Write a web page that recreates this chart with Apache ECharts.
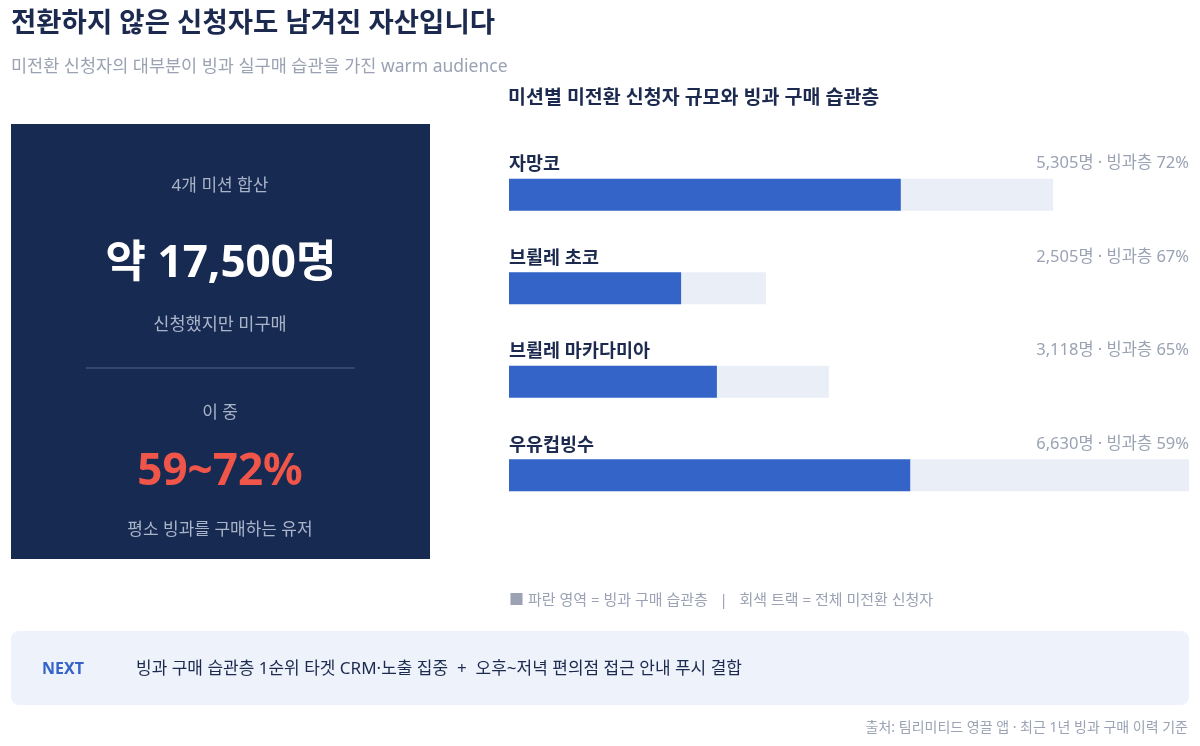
<!DOCTYPE html>
<html>
<head>
<meta charset="utf-8">
<title>미션별 미전환 신청자</title>
<script src="https://cdn.jsdelivr.net/npm/echarts@6/dist/echarts.min.js"></script>
<style>
  html, body { margin: 0; padding: 0; background: #ffffff; }
  #main { width: 1200px; height: 746px; }
</style>
</head>
<body>
<div id="main"></div>
<script type="text/javascript">
// 데이터
var missions = ['자망코', '브륄레 초코', '브륄레 마카다미아', '우유컵빙수'];
var totals = [5305, 2505, 3118, 6630];      // 전체 미전환 신청자
var habitPct = [72, 67, 65, 59];            // 빙과 구매 습관층 비율(%)

var FONT = '"Noto Sans", "Noto Sans CJK KR", sans-serif';
var NAVY = '#1b2a4e';
var GRAY = '#9aa2b3';
var BLUE = '#3464c8';
var TRACK = '#eaeef6';
var PANEL_TXT = '#a9b4c9';

var maxTotal = Math.max.apply(null, totals);
var habitVals = totals.map(function (t, i) { return Math.round(t * habitPct[i] / 100); });
var fullVals = totals.map(function () { return maxTotal; });

function fmt(n) { return n.toString().replace(/\B(?=(\d{3})+(?!\d))/g, ','); }

var myChart = echarts.init(document.getElementById('main'), null, { renderer: 'canvas' });

var option = {
    animation: false,
    backgroundColor: '#ffffff',
    textStyle: { fontFamily: FONT },
    title: [
        {
            text: '전환하지 않은 신청자도 남겨진 자산입니다',
            left: 6, top: 5,
            textStyle: { fontFamily: FONT, fontSize: 27.5, fontWeight: 'bold', color: NAVY }
        },
        {
            text: '미전환 신청자의 대부분이 빙과 실구매 습관을 가진 warm audience',
            left: 6, top: 53,
            textStyle: { fontFamily: FONT, fontSize: 17.5, fontWeight: 'normal', color: GRAY }
        },
        {
            text: '미션별 미전환 신청자 규모와 빙과 구매 습관층',
            left: 503, top: 84,
            textStyle: { fontFamily: FONT, fontSize: 19.5, fontWeight: 'bold', color: NAVY }
        }
    ],
    grid: { left: 509, right: 11, top: 148, height: 374, containLabel: false },
    xAxis: {
        type: 'value', min: 0, max: maxTotal,
        show: false
    },
    yAxis: {
        type: 'category', data: missions, inverse: true,
        show: false
    },
    series: [
        {
            // 오른쪽 수치 라벨용 투명 막대
            type: 'bar', data: fullVals, barWidth: 32, barGap: '-100%',
            itemStyle: { color: 'rgba(0,0,0,0)' },
            silent: true,
            label: {
                show: true,
                position: ['100%', -15],
                align: 'right', verticalAlign: 'middle',
                fontFamily: FONT, fontSize: 16.5, color: GRAY,
                formatter: function (p) {
                    return fmt(totals[p.dataIndex]) + '명 · 빙과층 ' + habitPct[p.dataIndex] + '%';
                }
            },
            z: 1
        },
        {
            // 회색 트랙 = 전체 미전환 신청자
            type: 'bar', data: totals, barWidth: 32, barGap: '-100%',
            itemStyle: { color: TRACK },
            label: {
                show: true,
                position: [0, -14],
                align: 'left', verticalAlign: 'middle',
                fontFamily: FONT, fontSize: 18.5, fontWeight: 'bold', color: NAVY,
                formatter: function (p) { return missions[p.dataIndex]; }
            },
            z: 2
        },
        {
            // 파란 영역 = 빙과 구매 습관층
            type: 'bar', data: habitVals, barWidth: 32, barGap: '-100%',
            itemStyle: { color: BLUE },
            z: 3
        }
    ],
    graphic: [
        // 왼쪽 요약 패널
        { type: 'rect', left: 11, top: 124, shape: { width: 419, height: 435 }, style: { fill: '#172a52' }, z: 0 },
        { type: 'text', x: 220, y: 186, style: { text: '4개 미션 합산', font: '17px ' + FONT, fill: PANEL_TXT, align: 'center', verticalAlign: 'middle' } },
        { type: 'text', x: 221, y: 264, style: { text: '약 17,500명', font: 'bold 44px ' + FONT, fill: '#ffffff', align: 'center', verticalAlign: 'middle' } },
        { type: 'text', x: 220, y: 325, style: { text: '신청했지만 미구매', font: '17.5px ' + FONT, fill: PANEL_TXT, align: 'center', verticalAlign: 'middle' } },
        { type: 'line', shape: { x1: 86, y1: 368, x2: 355, y2: 368 }, style: { stroke: '#3e5179', lineWidth: 1.5 } },
        { type: 'text', x: 220, y: 413, style: { text: '이 중', font: '17px ' + FONT, fill: PANEL_TXT, align: 'center', verticalAlign: 'middle' } },
        { type: 'text', x: 220, y: 472, style: { text: '59~72%', font: 'bold 44px ' + FONT, fill: '#f0554a', align: 'center', verticalAlign: 'middle' } },
        { type: 'text', x: 220, y: 530, style: { text: '평소 빙과를 구매하는 유저', font: '17px ' + FONT, fill: PANEL_TXT, align: 'center', verticalAlign: 'middle' } },
        // 범례 설명
        { type: 'text', x: 509, y: 601, style: { text: '■ 파란 영역 = 빙과 구매 습관층   |   회색 트랙 = 전체 미전환 신청자', font: '15px ' + FONT, fill: GRAY, verticalAlign: 'middle' } },
        // NEXT 박스
        { type: 'rect', left: 11, top: 631, shape: { width: 1178, height: 74, r: 8 }, style: { fill: '#eef2fb' }, z: 0 },
        { type: 'text', x: 42, y: 669, style: { text: 'NEXT', font: 'bold 16px ' + FONT, fill: BLUE, verticalAlign: 'middle' } },
        { type: 'text', x: 136, y: 669, style: { text: '빙과 구매 습관층 1순위 타겟 CRM·노출 집중  +  오후~저녁 편의점 접근 안내 푸시 결합', font: '17px ' + FONT, fill: NAVY, verticalAlign: 'middle' } },
        // 출처
        { type: 'text', x: 1188, y: 728, style: { text: '출처: 팀리미티드 영끌 앱 · 최근 1년 빙과 구매 이력 기준', font: '14px ' + FONT, fill: GRAY, align: 'right', verticalAlign: 'middle' } }
    ]
};

myChart.clear();
myChart.setOption(option);
</script>
</body>
</html>
